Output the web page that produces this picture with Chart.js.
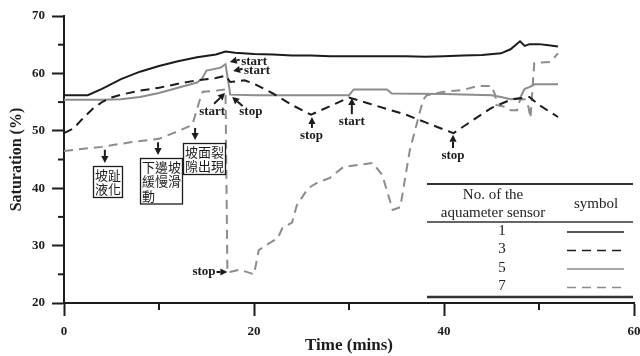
<!DOCTYPE html>
<html>
<head>
<meta charset="utf-8">
<script src="https://cdn.jsdelivr.net/npm/chart.js@4"></script>
<style>
  html, body { margin: 0; padding: 0; background: #fff; }
  #wrap { width: 640px; height: 356px; }
</style>
</head>
<body>
<div id="wrap"><canvas id="chart" width="640" height="356"></canvas></div>
<script>
// sensor readings (time in mins, saturation in %)
const sensors = ["1", "3", "5", "7"];

const time1 = [0, 2.5, 4, 6, 8, 10, 12, 14, 16, 17, 18, 20, 22, 24, 26, 28, 30, 32, 34, 36, 38, 40, 42, 44, 46, 47, 48, 48.5, 49, 50, 51, 52];
const sat1 = [56.2, 56.2, 57.3, 59, 60.3, 61.3, 62.1, 62.8, 63.3, 63.8, 63.6, 63.4, 63.3, 63.1, 63.1, 63, 63, 63, 63, 63, 62.9, 63, 63.1, 63.2, 63.5, 64.2, 65.6, 64.8, 65.1, 65.1, 64.9, 64.7];

const time3 = [0, 1, 2, 3, 4, 5, 6, 8, 10, 12, 14, 16, 17, 17.5, 19, 20, 22, 24, 26, 28, 30, 32, 34, 36, 38, 40, 41, 43, 45, 47, 49, 50, 52];
const sat3 = [49.6, 50.4, 52.2, 53.8, 55, 55.8, 56.3, 57, 57.5, 58.2, 58.8, 59.2, 59.6, 58.5, 58.8, 58.2, 56.5, 54.5, 52.8, 54.3, 55.8, 54.8, 53.8, 52.8, 51.5, 50.2, 49.6, 51.8, 54, 55.4, 55.9, 54.5, 52.4];

const time5 = [0, 4, 6, 8, 10, 12, 14, 14.5, 15, 16.5, 17, 17.5, 20, 30, 30.5, 34, 34.5, 40, 45, 46, 47, 48, 48.5, 49, 49.5, 52];
const sat5 = [55.4, 55.4, 55.5, 55.9, 56.6, 57.5, 58.4, 59, 60.5, 61, 61.6, 56.3, 56.2, 56.2, 57.2, 57.2, 56.5, 56.4, 56.2, 55.9, 55.5, 55.7, 57.3, 57.6, 58.1, 58.1];

const time7 = [0, 4, 7, 10, 11.5, 13.5, 14.3, 14.6, 16, 17, 17.2, 18.5, 20, 20.5, 21.5, 22.5, 23, 24, 24.5, 25.7, 26.7, 28, 29.4, 32.5, 33.5, 34.6, 35.4, 36.4, 37.1, 37.8, 38.2, 40, 42, 43.5, 45, 45.4, 45.5, 46.6, 47, 47.7, 48, 48.5, 48.9, 49.1, 49.5, 51.2, 52];
const sat7 = [46.5, 47.2, 48, 48.6, 49.6, 51, 55.4, 56.8, 57, 57.2, 25.3, 25.8, 25, 29.2, 30.3, 31.3, 33.1, 34, 37, 40, 41, 41.8, 43.7, 44.4, 42.3, 36.2, 36.7, 46.6, 51, 55.4, 56.2, 56.8, 57.1, 57.8, 57.8, 56.2, 54.5, 54.1, 53.6, 53.6, 55.4, 55.5, 54.1, 52.2, 61.8, 62, 63.5];

// arrow notes: tip / tail in data units, text anchor in data units
const arrowNotes = [
  { text: "start", tip: [17.45, 62.0], tail: [18.5, 62.4], at: [18.65, 62.0], align: "left" },
  { text: "start", tip: [17.8, 60.4], tail: [18.8, 60.8], at: [18.95, 60.5], align: "left" },
  { text: "stop", tip: [17.7, 55.9], tail: [18.8, 54.3], at: [18.45, 53.3], align: "left" },
  { text: "start", tip: [16.95, 56.6], tail: [15.8, 54.7], at: [15.6, 53.3], align: "center" },
  { text: "stop", tip: [26.1, 52.4], tail: [26.1, 50.5], at: [26.05, 49.1], align: "center" },
  { text: "start", tip: [30.3, 55.7], tail: [30.3, 52.9], at: [30.3, 51.6], align: "center" },
  { text: "stop", tip: [40.95, 49.3], tail: [40.95, 47.0], at: [40.95, 45.6], align: "center" },
  { text: "stop", tip: [17.2, 25.4], tail: [16.05, 25.4], at: [15.95, 25.4], align: "right" }
];

// boxed event notes (坡趾液化 etc.)
const boxNotes = [
  { lines: ["坡趾", "液化"], tip: [4.3, 44.4], tail: [4.3, 46.7], box: [3.05, 43.9] },
  { lines: ["下邊坡", "緩慢滑", "動"], tip: [9.9, 45.8], tail: [9.9, 48.0], box: [8.0, 45.3] },
  { lines: ["坡面裂", "隙出現"], tip: [13.8, 48.4], tail: [13.8, 50.5], box: [12.5, 47.9] }
];

const INK = "#1c1c1c";
const GREY = "#8c8c8c";
const SERIF = "'Liberation Serif', 'Times New Roman', serif";
const CJK = "'Noto Sans CJK TC', 'Noto Sans CJK SC', sans-serif";

function pts(ts, vs) { return ts.map((t, i) => ({ x: t, y: vs[i] })); }

function drawArrow(c, x1, y1, x2, y2) {
  // from tail (x1,y1) to tip (x2,y2)
  const ang = Math.atan2(y2 - y1, x2 - x1);
  const hl = 7, hw = 3.6;
  const bx = x2 - Math.cos(ang) * hl, by = y2 - Math.sin(ang) * hl;
  c.beginPath();
  c.moveTo(x1, y1);
  c.lineTo(bx, by);
  c.lineWidth = 2;
  c.strokeStyle = INK;
  c.stroke();
  c.beginPath();
  c.moveTo(x2, y2);
  c.lineTo(bx - Math.sin(ang) * hw, by + Math.cos(ang) * hw);
  c.lineTo(bx + Math.sin(ang) * hw, by - Math.cos(ang) * hw);
  c.closePath();
  c.fillStyle = INK;
  c.fill();
}

const notesPlugin = {
  id: "notes",
  afterDraw(chart) {
    const c = chart.ctx, xs = chart.scales.x, ys = chart.scales.y;
    const X = (t) => xs.getPixelForValue(t), Y = (v) => ys.getPixelForValue(v);
    c.save();

    // minor ticks
    c.strokeStyle = INK;
    c.lineWidth = 2;
    [10, 30, 50].forEach((t) => {
      c.beginPath(); c.moveTo(X(t), ys.bottom); c.lineTo(X(t), ys.bottom + 7); c.stroke();
    });
    [25, 35, 45, 55, 65].forEach((v) => {
      c.beginPath(); c.moveTo(xs.left, Y(v)); c.lineTo(xs.left - 6, Y(v)); c.stroke();
    });

    // arrow notes
    c.font = "bold 13px " + SERIF;
    c.textBaseline = "middle";
    arrowNotes.forEach((n) => {
      drawArrow(c, X(n.tail[0]), Y(n.tail[1]), X(n.tip[0]), Y(n.tip[1]));
      c.fillStyle = INK;
      c.textAlign = n.align;
      c.fillText(n.text, X(n.at[0]), Y(n.at[1]));
    });

    // boxed notes
    c.font = "13px " + CJK;
    boxNotes.forEach((n) => {
      drawArrow(c, X(n.tail[0]), Y(n.tail[1]), X(n.tip[0]), Y(n.tip[1]));
      const w = Math.max(...n.lines.map((l) => c.measureText(l).width)) + 3;
      const h = n.lines.length * 14.5 + 2;
      const bx = Math.round(X(n.box[0])) + 0.5, by = Math.round(Y(n.box[1])) + 0.5;
      c.fillStyle = "#fff";
      c.fillRect(bx, by, w, h);
      c.lineWidth = 1.3;
      c.strokeStyle = INK;
      c.strokeRect(bx, by, w, h);
      c.fillStyle = INK;
      c.textAlign = "left";
      c.textBaseline = "middle";
      n.lines.forEach((l, i) => c.fillText(l, bx + 1.5, by + 8.5 + i * 14.5));
    });

    // sensor table
    const ca = chart.chartArea;
    const tl = ca.right - 207, tr = ca.right - 1;
    const top = ca.top + 168;
    c.fillStyle = "#fff";
    c.fillRect(tl, top, tr - tl, 113);
    c.strokeStyle = "#333";
    c.lineWidth = 2;
    c.beginPath(); c.moveTo(tl, top); c.lineTo(tr, top); c.stroke();
    c.lineWidth = 1.5;
    c.beginPath(); c.moveTo(tl, top + 38); c.lineTo(tr, top + 38); c.stroke();
    c.lineWidth = 2.4;
    c.beginPath(); c.moveTo(tl, top + 113); c.lineTo(tr, top + 113); c.stroke();
    c.fillStyle = "#222";
    c.font = "15px " + SERIF;
    c.textAlign = "center";
    c.fillText("No. of the", tl + 66, top + 11);
    c.fillText("aquameter sensor", tl + 66, top + 29);
    c.fillText("symbol", tl + 169, top + 20);
    chart.data.datasets.forEach((ds, i) => {
      const y = top + 47 + i * 18.5;
      c.fillStyle = "#222";
      c.fillText(sensors[i], tl + 75, y);
      c.beginPath();
      c.setLineDash(ds.borderDash || []);
      c.strokeStyle = ds.borderColor;
      c.lineWidth = 1.5;
      c.moveTo(tl + 140, y + 1);
      c.lineTo(tl + 197, y + 1);
      c.stroke();
      c.setLineDash([]);
    });
    c.restore();
  }
};

const mk = (label, ts, vs, color, dash) => ({
  label, data: pts(ts, vs), borderColor: color, borderWidth: 2, borderDash: dash,
  pointRadius: 0, tension: 0, fill: false
});

new Chart(document.getElementById("chart"), {
  type: "line",
  data: {
    datasets: [
      mk(sensors[0], time1, sat1, INK, []),
      mk(sensors[1], time3, sat3, INK, [9, 6]),
      mk(sensors[2], time5, sat5, GREY, []),
      mk(sensors[3], time7, sat7, GREY, [9, 6])
    ]
  },
  options: {
    responsive: false,
    animation: false,
    layout: { autoPadding: false, padding: { top: 16, right: 6, left: 0, bottom: 0 } },
    plugins: { legend: { display: false }, tooltip: { enabled: false } },
    scales: {
      x: {
        type: "linear", min: 0, max: 60,
        afterFit(s) { s.height = 53; s.paddingLeft = 0; s.paddingRight = 0; },
        border: { color: INK, width: 2 },
        grid: {
          drawOnChartArea: false, tickLength: 13, tickWidth: 2,
          tickColor: (ctx) => (ctx.tick && ctx.tick.value % 20 === 0 ? INK : "rgba(0,0,0,0)")
        },
        ticks: {
          stepSize: 10, padding: 8, maxRotation: 0, color: INK,
          font: { family: SERIF, size: 13, weight: "bold" },
          callback: (v) => (v % 20 === 0 ? v : "")
        },
        title: {
          display: true, text: "Time (mins)", color: INK, padding: { top: 0, bottom: 0 },
          font: { family: SERIF, size: 17, weight: "bold" }
        }
      },
      y: {
        min: 20, max: 70,
        afterFit(s) { s.width = 64; s.paddingTop = 0; s.paddingBottom = 0; },
        border: { color: INK, width: 2 },
        grid: {
          drawOnChartArea: false, tickLength: 12, tickWidth: 2,
          tickColor: (ctx) => (ctx.tick && ctx.tick.value % 10 === 0 ? INK : "rgba(0,0,0,0)")
        },
        ticks: {
          stepSize: 5, padding: 7, color: INK,
          font: { family: SERIF, size: 13, weight: "bold" },
          callback: (v) => (v % 10 === 0 ? v : "")
        },
        title: {
          display: true, text: "Saturation (%)", color: INK, padding: { top: 7, bottom: 0 },
          font: { family: SERIF, size: 16, weight: "bold" }
        }
      }
    }
  },
  plugins: [notesPlugin]
});
</script>
</body>
</html>
